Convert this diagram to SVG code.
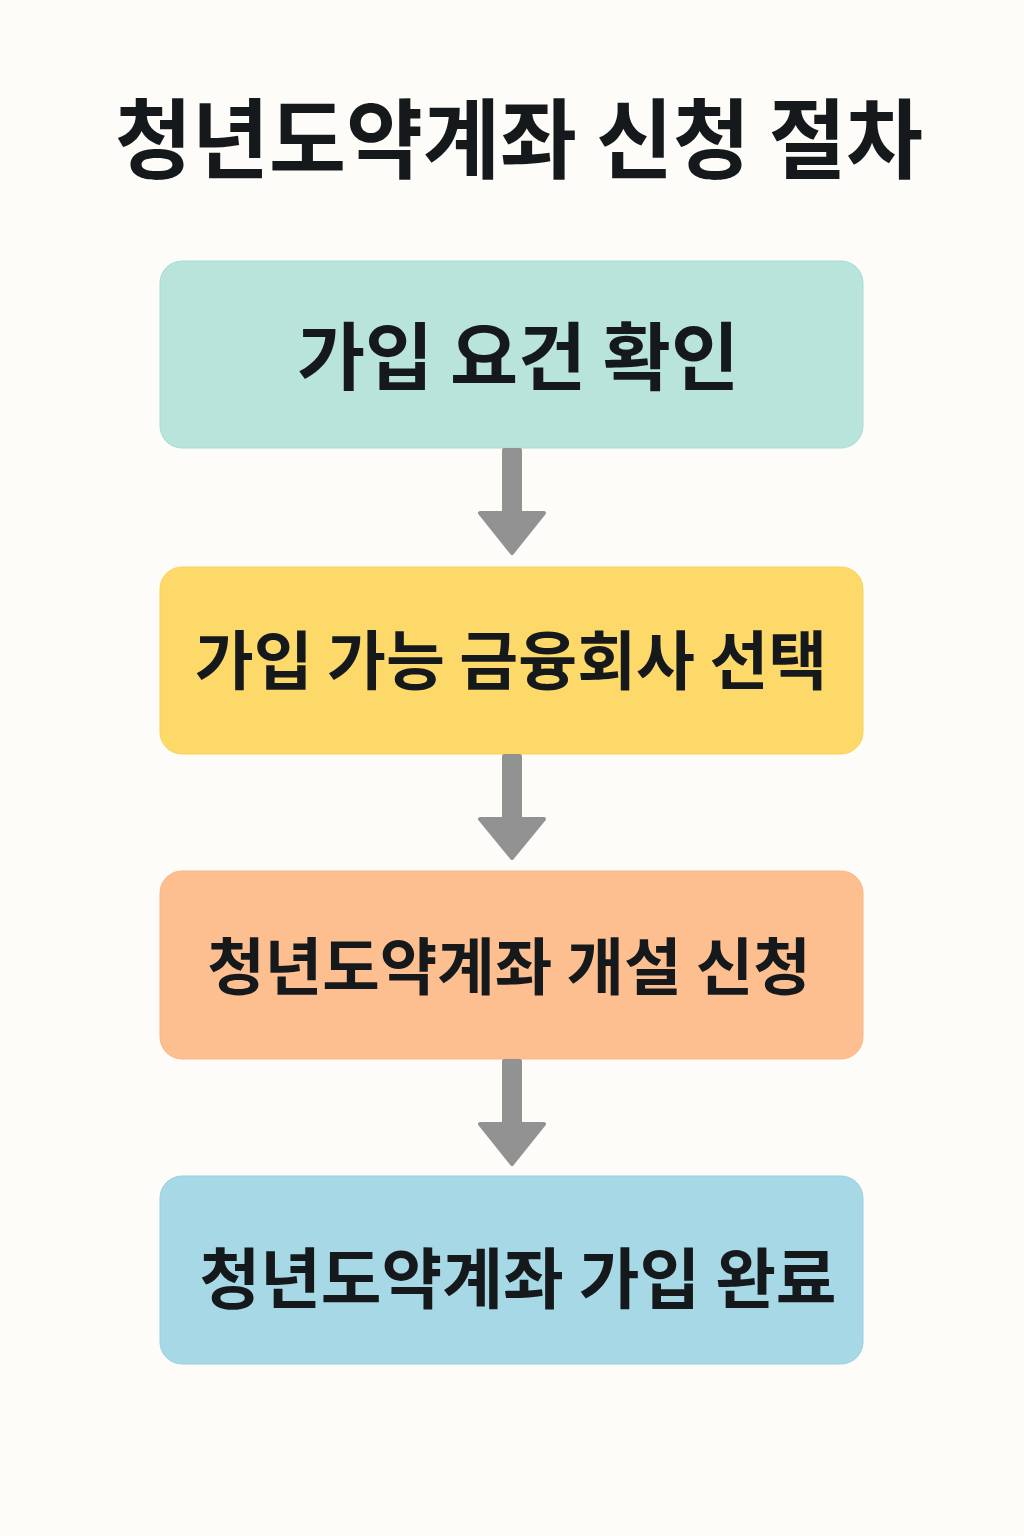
<svg xmlns="http://www.w3.org/2000/svg" width="1024" height="1536" viewBox="0 0 1024 1536">
<style>
.t{font-family:"Noto Sans CJK KR","Noto Sans CJK SC",sans-serif;font-weight:700;fill:#15191c;text-anchor:middle}
.arrow{fill:#929292;stroke:#929292;stroke-width:4;stroke-linejoin:round}
</style>
<rect width="1024" height="1536" fill="#fdfcf8"/>
<text class="t" x="519" y="172" font-size="87" textLength="808" lengthAdjust="spacingAndGlyphs">청년도약계좌 신청 절차</text>
<g id="n1"><rect x="160" y="261" width="703" height="187" rx="22" fill="#b8e4dc" stroke="#a8dcd2" stroke-width="1"/><text class="t" x="518" y="384" font-size="74">가입 요건 확인</text></g>
<g id="n2"><rect x="160" y="567" width="703" height="187" rx="22" fill="#fcd968" stroke="#f8d35a" stroke-width="1"/><text class="t" x="511" y="684" font-size="64">가입 가능 금융회사 선택</text></g>
<g id="n3"><rect x="160" y="871" width="703" height="188" rx="22" fill="#fdbf90" stroke="#f8b684" stroke-width="1"/><text class="t" x="509" y="990" font-size="62.5">청년도약계좌 개설 신청</text></g>
<g id="n4"><rect x="160" y="1176" width="703" height="188" rx="22" fill="#a6d8e6" stroke="#98d0e0" stroke-width="1"/><text class="t" x="518" y="1303" font-size="66">청년도약계좌 가입 완료</text></g>
<g id="connectors">
<path class="arrow" d="M504 450 H520 V513 H544 L512 553 L480 513 H504 Z"/>
<path class="arrow" d="M504 756 H520 V819 H544 L512 858 L480 819 H504 Z"/>
<path class="arrow" d="M504 1061 H520 V1124 H544 L512 1164 L480 1124 H504 Z"/>
</g>
</svg>
